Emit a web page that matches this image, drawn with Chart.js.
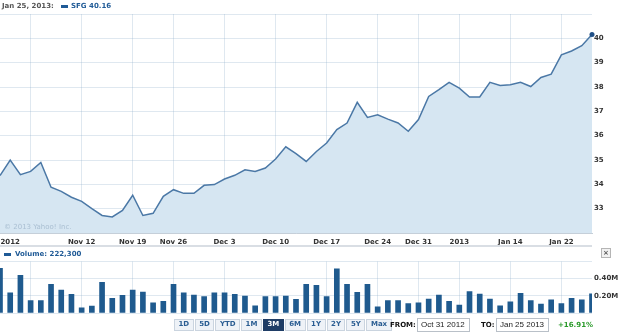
<!DOCTYPE html>
<html><head><meta charset="utf-8">
<script src="https://cdn.jsdelivr.net/npm/chart.js@4.4.1/dist/chart.umd.min.js"></script>
<style>
html,body{margin:0;padding:0;background:#fff;width:625px;height:333px;overflow:hidden;font-family:"DejaVu Sans",sans-serif;}
#wrap{position:relative;width:625px;height:333px;}
canvas{position:absolute;left:0;}
.t{position:absolute;font:bold 7px "DejaVu Sans";white-space:nowrap;line-height:9px;}
.sw{position:absolute;background:#1f5a96;}
#btns{position:absolute;left:174px;top:319px;display:flex;gap:1px;}
#btns div{height:11px;line-height:11px;padding:0 3.5px;font:bold 7px "DejaVu Sans";color:#2a5d92;background:#eef2f7;border:1px solid #cad4df;box-sizing:border-box;height:12px;}
#btns div.sel{background:#1f3d66;color:#fff;border-color:#1f3d66;}
.box{position:absolute;top:318px;height:14px;border:1px solid #b9c0c8;box-sizing:border-box;font:8px "Liberation Sans";line-height:12px;padding-left:3px;color:#222;background:#fff;}
</style></head>
<body><div id="wrap">
<canvas id="price" width="625" height="250" style="top:0"></canvas>
<canvas id="vol" width="625" height="67" style="top:247px"></canvas>
<div style="position:absolute;left:0;top:245px;width:592px;height:2px;background:#d9dee4"></div>
<div class="t" style="left:2px;top:2px;color:#555">Jan 25, 2013:</div>
<div class="sw" style="left:61px;top:5px;width:7px;height:3px"></div>
<div class="t" id="lgd" style="left:71px;top:2px;color:#1f5a96"></div>
<div class="t" style="left:4px;top:223px;font-weight:normal;color:#aabfd2">© 2013 Yahoo! Inc.</div>
<div class="sw" style="left:4px;top:253px;width:7px;height:3px"></div>
<div class="t" id="vlgd" style="left:15px;top:250px;color:#1f5a96"></div>
<div style="position:absolute;left:601px;top:248px;width:10px;height:10px;border:1px solid #b5b5b5;box-sizing:border-box;background:#f1f1f1;font:bold 7px 'DejaVu Sans';line-height:8px;text-align:center;color:#555">×</div>
<div id="btns"></div>
<div class="t" style="left:390px;top:321px;color:#111">FROM:</div>
<div class="box" style="left:417px;width:53px">Oct 31 2012</div>
<div class="t" style="left:481px;top:321px;color:#111">TO:</div>
<div class="box" style="left:496px;width:53px">Jan 25 2013</div>
<div class="t" style="left:558px;top:321px;color:#2a9a2a">+16.91%</div>
</div>
<script>
const DATES = ['Oct 31','Nov 1','Nov 2','Nov 5','Nov 6','Nov 7','Nov 8','Nov 9','Nov 12','Nov 13','Nov 14','Nov 15','Nov 16','Nov 19','Nov 20','Nov 21','Nov 23','Nov 26','Nov 27','Nov 28','Nov 29','Nov 30','Dec 3','Dec 4','Dec 5','Dec 6','Dec 7','Dec 10','Dec 11','Dec 12','Dec 13','Dec 14','Dec 17','Dec 18','Dec 19','Dec 20','Dec 21','Dec 24','Dec 26','Dec 27','Dec 28','Dec 31','Jan 2','Jan 3','Jan 4','Jan 7','Jan 8','Jan 9','Jan 10','Jan 11','Jan 14','Jan 15','Jan 16','Jan 17','Jan 18','Jan 22','Jan 23','Jan 24','Jan 25'];
const PRICE = [34.36,35.00,34.40,34.53,34.90,33.88,33.71,33.47,33.30,33.00,32.72,32.66,32.93,33.55,32.72,32.81,33.51,33.78,33.63,33.63,33.96,33.99,34.22,34.37,34.60,34.53,34.67,35.04,35.54,35.26,34.94,35.35,35.70,36.25,36.52,37.37,36.75,36.86,36.68,36.52,36.18,36.66,37.61,37.89,38.19,37.95,37.59,37.59,38.19,38.06,38.09,38.19,38.02,38.39,38.53,39.32,39.48,39.70,40.16];
const VOLUME = [520000,235000,440000,144000,144000,335000,266000,217000,60000,80000,358000,171000,206000,266000,243000,118000,137000,335000,235000,209000,190000,235000,235000,217000,198000,83000,190000,190000,198000,160000,335000,323000,190000,514000,335000,240000,335000,72000,144000,144000,110000,118000,163000,209000,137000,91000,251000,220000,163000,83000,129000,229000,144000,103000,152000,110000,171000,152000,222300];
const TICK_DATES = ['Nov 1','Nov 12','Nov 19','Nov 26','Dec 3','Dec 10','Dec 17','Dec 24','Dec 31','Jan 7','Jan 14','Jan 22'];
const TICK_TEXT = ['2012','Nov 12','Nov 19','Nov 26','Dec 3','Dec 10','Dec 17','Dec 24','Dec 31','2013','Jan 14','Jan 22'];
const GRID_DATES = ['Nov 5','Nov 12','Nov 19','Nov 26','Dec 3','Dec 10','Dec 17','Dec 24','Dec 31','Jan 7','Jan 14','Jan 22'];
const PRICE_TICKS = [33,34,35,36,37,38,39,40];
const VOL_TICKS = [200000,400000];
const RANGES = ['1D','5D','YTD','1M','3M','6M','1Y','2Y','5Y','Max'];
const SELECTED = '3M';
const SYMBOL = 'SFG';

document.getElementById('lgd').textContent = SYMBOL + ' ' + PRICE[PRICE.length-1].toFixed(2);
document.getElementById('vlgd').textContent = 'Volume: ' + VOLUME[VOLUME.length-1].toLocaleString('en-US');
const b = document.getElementById('btns');
RANGES.forEach(r => { const d = document.createElement('div'); d.textContent = r; if (r === SELECTED) d.className = 'sel'; b.appendChild(d); });

const GRID = 'rgba(140,172,200,0.28)';
const FONT = {family:'DejaVu Sans', size:7, weight:'bold'};
const gridX = ctx => GRID_DATES.includes(DATES[ctx.index]) ? GRID : 'rgba(0,0,0,0)';
const noPad = s => { s.paddingLeft = 0; s.paddingRight = 0; s.paddingTop = 0; s.paddingBottom = 0; };

new Chart(document.getElementById('price'), {
  type:'line',
  data:{labels:DATES, datasets:[{data:PRICE, borderColor:'#4b78a6', borderWidth:1.5, backgroundColor:'#d6e6f2', fill:'start', tension:0,
    clip:{left:0, top:0, right:3, bottom:0},
    pointRadius:ctx => ctx.dataIndex === PRICE.length-1 ? 2.5 : 0, pointBackgroundColor:'#1f4f86', pointBorderWidth:0, pointHoverRadius:0}]},
  options:{responsive:false, animation:false, devicePixelRatio:1,
    layout:{autoPadding:false, padding:{top:14,left:0,right:0,bottom:0}},
    plugins:{legend:{display:false}, tooltip:{enabled:false}},
    scales:{
      x:{z:1, offset:false, grid:{color:gridX, drawTicks:false, offset:false}, border:{display:true,color:'#c5cfd9'},
         ticks:{autoSkip:false, maxRotation:0, padding:5, color:'#333', font:FONT,
           callback:(v,i) => { const k = TICK_DATES.indexOf(DATES[i]); return k >= 0 ? TICK_TEXT[k] : ''; }},
         afterFit:s => { s.height = 17; noPad(s); }},
      y:{z:1, position:'right', min:32, max:41, grid:{color:GRID, drawTicks:false}, border:{display:false},
         ticks:{stepSize:1, padding:2, color:'#333', font:FONT, callback:v => PRICE_TICKS.includes(v) ? String(v) : ''},
         afterFit:s => { s.width = 33; noPad(s); }}
    }}
});

new Chart(document.getElementById('vol'), {
  type:'bar',
  data:{labels:DATES, datasets:[{data:VOLUME, backgroundColor:'#1f5a8e', barThickness:5, clip:0}]},
  options:{responsive:false, animation:false, devicePixelRatio:1,
    layout:{autoPadding:false, padding:{top:14.5,left:0,right:0,bottom:0}},
    plugins:{legend:{display:false}, tooltip:{enabled:false}},
    scales:{
      x:{offset:false, grid:{color:gridX, drawTicks:false, offset:false}, border:{display:false},
         ticks:{display:false, autoSkip:false}, afterFit:s => { s.height = 1; noPad(s); }},
      y:{position:'right', min:0, max:600000, grid:{color:GRID, drawTicks:false}, border:{display:false},
         ticks:{stepSize:200000, padding:2, color:'#333', font:FONT, callback:v => VOL_TICKS.includes(v) ? (v/1e6).toFixed(2)+'M' : ''},
         afterFit:s => { s.width = 33; noPad(s); }}
    }}
});
</script>
</body></html>
